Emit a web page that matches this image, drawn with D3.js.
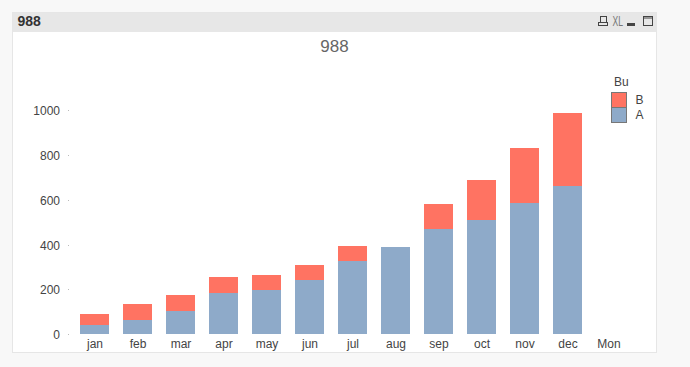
<!DOCTYPE html>
<html>
<head>
<meta charset="utf-8">
<script src="https://cdn.jsdelivr.net/npm/d3@7"></script>
<style>
  html, body { margin: 0; padding: 0; background: #f8f8f8; }
  svg { display: block; font-family: "Liberation Sans", Arial, sans-serif; }
</style>
</head>
<body>
<svg id="chart" width="690" height="367"></svg>
<script>
const months = ["jan", "feb", "mar", "apr", "may", "jun", "jul", "aug", "sep", "oct", "nov", "dec", "Mon"];
const seriesA = [40, 64, 103, 183, 197, 241, 326, 388, 469, 509, 585, 661, 0];
const seriesB = [49, 70, 71, 71, 66, 67, 67, 0, 111, 179, 245, 327, 0];
const yTicks = [0, 200, 400, 600, 800, 1000];
const legendItems = ["B", "A"];

const colorA = "#8eaac9";
const colorB = "#ff7362";

const svg = d3.select("#chart");

// window frame
svg.append("rect")
    .attr("x", 12.5).attr("y", 12.5)
    .attr("width", 644).attr("height", 340)
    .attr("fill", "#fff").attr("stroke", "#e6e6e6");

svg.append("rect")
    .attr("x", 13).attr("y", 13)
    .attr("width", 643).attr("height", 19)
    .attr("fill", "#e7e7e7");

svg.append("text")
    .attr("x", 17.5).attr("y", 26)
    .attr("font-size", 14).attr("font-weight", "bold").attr("fill", "#333")
    .text("988");

// caption icons
const icons = svg.append("g").attr("fill", "none").attr("stroke", "#444");
icons.append("rect").attr("x", 600.5).attr("y", 16.5).attr("width", 6).attr("height", 6);
icons.append("rect").attr("x", 598.5).attr("y", 22.5).attr("width", 9).attr("height", 3);
icons.append("rect").attr("x", 643.5).attr("y", 16.5).attr("width", 9).attr("height", 9);
icons.append("line").attr("x1", 643).attr("x2", 653).attr("y1", 18).attr("y2", 18);
svg.append("text")
    .attr("x", 612.5).attr("y", 25.5)
    .attr("font-size", 14).attr("fill", "#777")
    .attr("textLength", 10.5).attr("lengthAdjust", "spacingAndGlyphs")
    .text("XL");
svg.append("rect")
    .attr("x", 627).attr("y", 23)
    .attr("width", 8).attr("height", 3)
    .attr("fill", "#444");

svg.append("text")
    .attr("x", 334.5).attr("y", 52)
    .attr("text-anchor", "middle")
    .attr("font-size", 17).attr("fill", "#666")
    .text("988");

const x = d3.scaleBand()
    .domain(months)
    .range([73, 632])
    .paddingInner(14 / 43)
    .paddingOuter(7 / 43);

const y = d3.scaleLinear()
    .domain([0, 1000])
    .rangeRound([334.3, 110.1]);

const stacked = d3.stack()
    .keys(["A", "B"])
    .value((d, key) => d[key])(months.map((m, i) => ({month: m, A: seriesA[i], B: seriesB[i]})));

svg.selectAll(".layer")
    .data(stacked)
  .enter().append("g")
    .attr("class", "layer")
    .attr("fill", d => d.key === "A" ? colorA : colorB)
  .selectAll("rect")
    .data(d => d)
  .enter().append("rect")
    .attr("x", d => x(d.data.month))
    .attr("y", d => y(d[1]))
    .attr("width", x.bandwidth())
    .attr("height", d => y(d[0]) - y(d[1]));

const yAxis = svg.append("g")
    .attr("transform", "translate(69,0)")
    .call(d3.axisLeft(y).tickValues(yTicks).tickFormat(d3.format("d")).tickSize(1).tickPadding(8));
yAxis.select(".domain").remove();
yAxis.selectAll("line").attr("stroke", "#bbb");
yAxis.selectAll("text")
    .attr("font-family", "Liberation Sans, Arial, sans-serif")
    .attr("font-size", 12).attr("fill", "#444")
    .attr("dy", "0.4em");

const xAxis = svg.append("g")
    .attr("transform", "translate(0.5,334)")
    .call(d3.axisBottom(x).tickSize(0).tickPadding(5));
xAxis.select(".domain").remove();
xAxis.selectAll("text")
    .attr("font-family", "Liberation Sans, Arial, sans-serif")
    .attr("font-size", 12).attr("fill", "#444");
// the last label sits a bit left of its slot in the original
xAxis.selectAll("text").filter(d => d === "Mon").attr("dx", -2);

// legend
svg.append("text")
    .attr("x", 614).attr("y", 86)
    .attr("font-size", 12).attr("fill", "#444")
    .text("Bu");

const legend = svg.selectAll(".legend")
    .data(legendItems)
  .enter().append("g")
    .attr("class", "legend")
    .attr("transform", (d, i) => `translate(611.5,${92.5 + i * 15})`);

legend.append("rect")
    .attr("width", 15).attr("height", 15)
    .attr("fill", d => d === "A" ? colorA : colorB)
    .attr("stroke", "#777");

legend.append("text")
    .attr("x", 24).attr("y", 11)
    .attr("font-size", 12).attr("fill", "#444")
    .text(d => d);
</script>
</body>
</html>
